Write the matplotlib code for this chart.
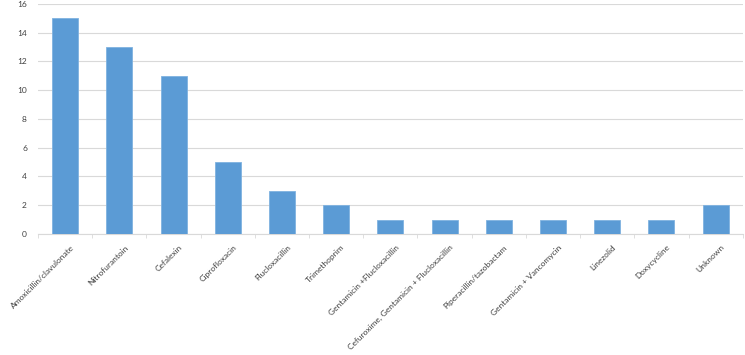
import matplotlib
matplotlib.use("Agg")
import matplotlib.pyplot as plt
import matplotlib.transforms as mtransforms
import numpy as np

# 抗生素类别及数量
drugs = ["Amoxicillin/clavulonate", "Nitrofurantoin", "Cefalexin", "Ciprofloxacin",
         "Flucloxacillin", "Trimethoprim", "Gentamicin +Flucloxacillin",
         "Cefuroxime, Gentamicin + Flucloxacillin", "Piperacillin/tazobactam",
         "Gentamicin + Vancomycin", "Linezolid", "Doxycycline", "Unknown"]
counts = [15, 13, 11, 5, 3, 2, 1, 1, 1, 1, 1, 1, 2]
yticks = [0, 2, 4, 6, 8, 10, 12, 14, 16]

plt.rcParams['font.family'] = ['Lato', 'DejaVu Sans']

fig = plt.figure(figsize=(7.45, 3.55), dpi=100)
ax = fig.add_axes([0.051, 0.341, 0.946, 0.648])

x = np.arange(len(drugs))
ax.bar(x, counts, width=0.48, color="#5B9BD5", edgecolor="#7FB2E0", linewidth=0.6, zorder=3)

ax.set_xlim(-0.5, len(drugs) - 0.5)
ax.set_ylim(0, 16)
ax.set_yticks(yticks)
ax.yaxis.grid(True, color="#D9D9D9", linewidth=0.8, zorder=0)
ax.tick_params(axis="y", length=0, labelsize=6, colors="#404040", pad=8)

ax.set_xticks(x)
ax.set_xticklabels(drugs, rotation=45, ha="right", rotation_mode="anchor",
                   fontsize=6.0, color="#404040")
ax.set_xticks(np.arange(len(drugs) + 1) - 0.5, minor=True)
ax.tick_params(axis="x", which="major", length=0, pad=7)
ax.tick_params(axis="x", which="minor", length=3, color="#D9D9D9")

# 标签稍微右移
shift = mtransforms.ScaledTranslation(5 / 100, 0, fig.dpi_scale_trans)
for lab in ax.get_xticklabels():
    lab.set_transform(lab.get_transform() + shift)

for s in ["top", "right", "left"]:
    ax.spines[s].set_visible(False)
ax.spines["bottom"].set_color("#D9D9D9")

fig.savefig("out.png", dpi=100)
